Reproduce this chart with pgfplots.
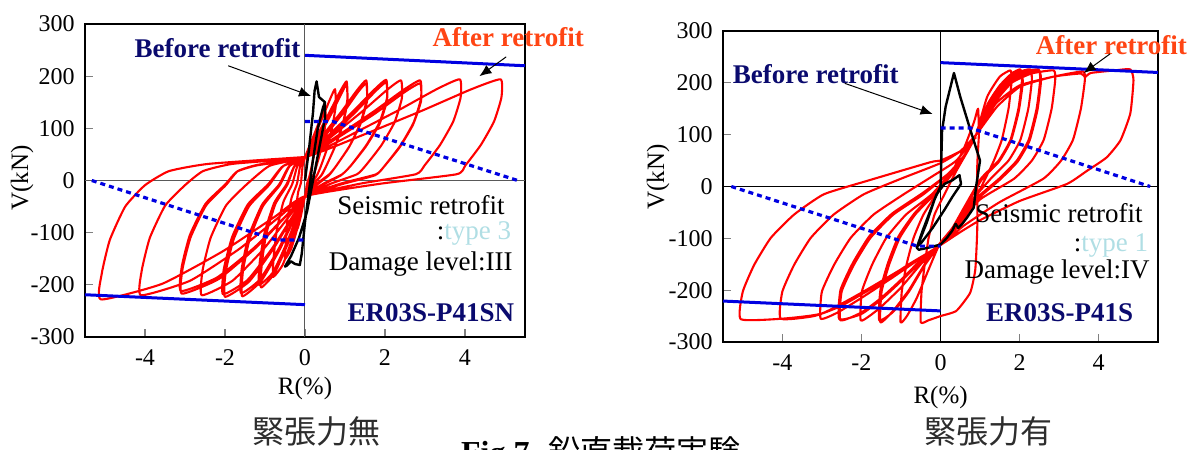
\documentclass[border=0pt]{standalone}
\usepackage{pgfplots}
\pgfplotsset{compat=1.18}
\usepackage{fontspec}
\setmainfont{Liberation Serif}
\newfontfamily\cjk{Noto Sans CJK JP}
\usetikzlibrary{arrows.meta}
\definecolor{navy}{RGB}{10,10,110}
\definecolor{orred}{RGB}{255,69,20}
\definecolor{ltblue}{RGB}{176,222,228}
\definecolor{pblue}{RGB}{0,0,225}
\definecolor{dgray}{RGB}{45,45,45}
\newcommand\annf{\fontsize{13.5}{14}\selectfont\bfseries}
\newcommand\txtf{\fontsize{13.5}{14}\selectfont}
\pgfplotsset{
  hyst/.style={
    scale only axis, xmin=-5.5, xmax=5.5, ymin=-300, ymax=300,
    xtick={-4,-2,0,2,4}, xticklabels={-4,-2,0,2,4},
    ytick={-300,-200,-100,0,100,200,300},
    yticklabels={-300,-200,-100,0,100,200,300},
    tick align=inside, tick pos=left,
    major tick length=4pt,
    tick style={gray, line width=0.6pt},
    axis line style={line width=1.3pt, black},
    tick label style={font=\fontsize{12}{12}\selectfont},
    xticklabel style={inner sep=0pt, yshift=-6pt},
    yticklabel style={inner sep=0pt, xshift=-5pt},
    clip=false, no markers,
  },
  redl/.style={red, line width=1.05pt, line join=round, smooth, tension=0.3},
  blkl/.style={black, line width=1.2pt, line join=round},
  bsol/.style={pblue, line width=1.5pt},
  bdot/.style={pblue, line width=1.6pt, dash pattern=on 2.5pt off 2pt},
}
\begin{document}
\begin{tikzpicture}
\useasboundingbox (0,0) rectangle (600pt,225pt);
% ---------------- left panel ----------------
\begin{axis}[hyst, at={(42.5pt,56.5pt)}, anchor=south west, width=220pt, height=156.5pt]
\addplot[gray!70!black, line width=0.5pt] coordinates {(0,-300)(0,300)};
\addplot[gray!70!black, line width=0.5pt] coordinates {(-5.5,0)(5.5,0)};
\addplot[redl] coordinates {
(0,0) (0.075,58) (0.15,72) (0.2125,84) (0.25,90) (0.27,74) (0.23,52) (0.18,32) (0.13,14) (0.10,5) (0.05,-6) (0,-30) (-0.04,-44) (-0.1,-67) (-0.175,-90) (-0.25,-100) (-0.23,-78) (-0.22,-50) (-0.17,-22) (-0.1,-4) (-0.06,28) (0,45)
(0.15,73) (0.3,102) (0.425,128) (0.5,140) (0.52,115) (0.455,81) (0.365,49) (0.26,21) (0.2,8) (0.1,-6) (0,-30) (-0.075,-54) (-0.2,-94) (-0.35,-132) (-0.5,-150) (-0.48,-117) (-0.44,-75) (-0.335,-33) (-0.2,-6) (-0.12,28) (0,45)
(0.225,83) (0.45,123) (0.6375,158) (0.75,175) (0.77,144) (0.68,102) (0.55,61) (0.39,26) (0.3,10) (0.15,-6) (0,-30) (-0.12,-61) (-0.32,-112) (-0.56,-162) (-0.8,-185) (-0.78,-144) (-0.7,-93) (-0.54,-41) (-0.32,-7) (-0.19,28) (0,45)
(0.31,87) (0.62,132) (0.88,171) (1.04,190) (1.06,156) (0.95,110) (0.76,67) (0.54,29) (0.42,11) (0.21,-6) (0,-30) (-0.165,-65) (-0.44,-123) (-0.77,-179) (-1.1,-205) (-1.08,-160) (-0.97,-103) (-0.74,-45) (-0.44,-8) (-0.26,28) (0,45)
(0.35,85) (0.66,128) (0.9,165) (1.04,184) (1.06,150) (0.94,106) (0.74,63) (0.52,26) (0.4,9) (0.2,-8) (0,-32) (-0.18,-66) (-0.47,-122) (-0.8,-176) (-1.15,-200) (-1.13,-156) (-1.01,-100) (-0.77,-43) (-0.46,-7) (-0.27,27) (0,44)
(0.46,88) (0.92,133) (1.3,173) (1.53,192) (1.55,157) (1.39,111) (1.12,67) (0.79,29) (0.61,12) (0.3,-6) (0,-30) (-0.24,-68) (-0.63,-132) (-1.1,-193) (-1.57,-222) (-1.55,-173) (-1.38,-111) (-1.05,-49) (-0.63,-9) (-0.38,28) (0,45)
(0.5,86) (0.96,130) (1.33,170) (1.53,186) (1.55,152) (1.38,107) (1.1,64) (0.77,27) (0.6,10) (0.3,-8) (0,-32) (-0.26,-70) (-0.66,-131) (-1.13,-190) (-1.6,-216) (-1.58,-168) (-1.41,-107) (-1.07,-46) (-0.65,-8) (-0.4,27) (0,44)
(0.61,88) (1.22,134) (1.73,174) (2.03,193) (2.05,158) (1.865,112) (1.535,68) (1.15,29) (0.93,12) (0.465,-6) (0,-30) (-0.3,-69) (-0.8,-132) (-1.4,-194) (-2.0,-223) (-1.98,-174) (-1.78,-112) (-1.395,-49) (-0.9,-9) (-0.54,28) (0,45)
(0.65,86) (1.26,131) (1.76,171) (2.03,188) (2.05,153) (1.86,108) (1.52,65) (1.13,27) (0.9,10) (0.45,-8) (0,-32) (-0.32,-70) (-0.83,-131) (-1.44,-191) (-2.05,-218) (-2.03,-170) (-1.82,-108) (-1.43,-46) (-0.93,-8) (-0.56,27) (0,44)
(0.72,88) (1.44,133) (2.04,173) (2.4,192) (2.42,157) (2.235,111) (1.905,67) (1.52,29) (1.3,12) (0.65,-6) (0,-30) (-0.39,-68) (-1.03,-131) (-1.81,-192) (-2.58,-220) (-2.56,-172) (-2.36,-110) (-1.975,-48) (-1.48,-9) (-0.89,28) (0,45)
(0.86,88) (1.73,133) (2.45,173) (2.88,192) (2.9,157) (2.715,111) (2.385,67) (2.0,29) (1.78,12) (0.89,-6) (0,-30) (-0.46,-67) (-1.23,-129) (-2.16,-189) (-3.08,-217) (-3.06,-169) (-2.86,-109) (-2.475,-48) (-1.98,-9) (-1.68,18) (-1.19,30) (0,45)
(0.9,86) (1.78,130) (2.5,170) (2.88,186) (2.9,152) (2.7,107) (2.37,64) (1.98,27) (1.75,10) (0.88,-8) (0,-32) (-0.48,-68) (-1.26,-128) (-2.2,-186) (-3.1,-212) (-3.08,-165) (-2.88,-105) (-2.49,-45) (-2.0,-8) (-1.7,17) (-1.2,29) (0,44)
(1.16,88) (2.32,134) (3.29,175) (3.87,194) (3.89,159) (3.705,113) (3.375,68) (2.99,29) (2.77,12) (1.385,-6) (0,-30) (-0.615,-68) (-1.64,-131) (-2.87,-192) (-4.1,-220) (-4.08,-172) (-3.88,-110) (-3.495,-48) (-3.0,-9) (-2.55,18) (-1.8,32) (0,45)
(1.47,88) (2.93,134) (4.16,175) (4.89,194) (4.91,159) (4.725,113) (4.395,68) (4.01,29) (3.79,12) (1.9,-6) (0,-30) (-0.765,-70) (-2.04,-135) (-3.57,-198) (-5.1,-228) (-5.08,-178) (-4.88,-114) (-4.495,-50) (-4.0,-9) (-3.4,18) (-2.4,32) (0,45)
};
\addplot[blkl] coordinates {
(0,0) (0.1,60) (0.2,130) (0.24,172) (0.29,190) (0.35,160) (0.5,150) (0.5,120) (0.35,60) (0.2,0) (0.05,-60) (-0.15,-110) (-0.35,-145) (-0.5,-165) (-0.45,-163) (-0.35,-155) (-0.25,-160) (-0.13,-162) (-0.08,-140) (0,-80) (0.1,-20) (0.2,40) (0.32,100) (0.45,140) (0.5,150)
};
\addplot[bsol] coordinates {(0,240)(5.5,220)};
\addplot[bsol] coordinates {(-5.5,-219)(0,-238)};
\addplot[bdot] coordinates {(0,113)(0.7,113)(5.32,0)};
\addplot[bdot] coordinates {(-5.33,0)(-0.72,-114)(0,-114)};
\node[anchor=base west, inner sep=0, text=navy, font=\annf] at (axis cs:-4.27,235) {Before retrofit};
\draw[-{Latex[length=6pt,width=5pt]}, line width=0.5pt] (axis cs:-1.92,220) -- (axis cs:0.15,162);
\node[anchor=base west, inner sep=0, text=orred, font=\annf] at (axis cs:3.18,256) {After retrofit};
\draw[-{Latex[length=6pt,width=5pt]}, line width=0.5pt] (axis cs:5.03,237) -- (axis cs:4.36,200);
\node[anchor=base east, inner sep=0, font=\txtf] at (axis cs:5.0,-65) {Seismic retrofit};
\node[anchor=base east, inner sep=0, font=\txtf] at (axis cs:5.16,-114) {:\textcolor{ltblue}{type 3}};
\node[anchor=base east, inner sep=0, font=\txtf] at (axis cs:5.2,-172) {Damage level:III};
\node[anchor=base east, inner sep=0, text=navy, font=\annf] at (axis cs:5.24,-271) {ER03S-P41SN};
\end{axis}
% ---------------- right panel ----------------
\begin{axis}[hyst, at={(361.5pt,54pt)}, anchor=south west, width=217.5pt, height=155.5pt]
\addplot[black, line width=0.5pt] coordinates {(0,-300)(0,300)};
\addplot[black, line width=0.5pt] coordinates {(-5.5,0)(5.5,0)};
\addplot[redl] coordinates {
(0,0) (0.3,30) (0.6,75) (0.85,125) (0.95,150) (0.97,100) (0.93,40) (0.93,-80) (0.88,-160) (0.75,-205) (0.4,-240) (0,-250) (-0.3,-258) (-0.5,-262) (-0.48,-203) (-0.4,-151) (-0.3,-99) (-0.15,-54) (0.1,-15) (0.4,30) (0.7,70) (0.9,100)
(1.18,173) (1.5,212) (1.77,224) (1.8,205) (1.72,150) (1.55,90) (1.35,50) (1.1,10) (0.7,-50) (0.35,-85) (0,-108) (-0.3,-160) (-0.6,-215) (-0.85,-250) (-1.01,-262) (-0.98,-203) (-0.86,-151) (-0.68,-99) (-0.43,-54) (-0.1,-15) (0.35,30) (0.65,65) (0.9,100)
(1.2,160) (1.5,195) (1.8,218) (2.02,226) (2.06,205) (1.97,150) (1.77,90) (1.47,50) (1.02,15) (0.6,-40) (0.3,-80) (0,-108) (-0.4,-150) (-0.8,-200) (-1.2,-240) (-1.52,-262) (-1.49,-203) (-1.3,-151) (-1.03,-99) (-0.64,-54) (-0.15,-15) (0.35,30) (0.65,65) (0.9,100)
(1.22,158) (1.52,192) (1.82,214) (2.04,222) (2.08,200) (1.98,146) (1.78,88) (1.48,48) (1.04,13) (0.62,-42) (0.3,-82) (0,-110) (-0.4,-152) (-0.8,-203) (-1.2,-242) (-1.55,-258) (-1.52,-200) (-1.33,-148) (-1.06,-96) (-0.66,-52) (-0.17,-13) (0.33,30) (0.65,65) (0.9,100)
(1.25,165) (1.6,200) (1.95,220) (2.27,226) (2.31,205) (2.22,150) (2.02,90) (1.72,50) (1.27,15) (0.7,-35) (0.3,-80) (0,-110) (-0.5,-150) (-1.0,-195) (-1.5,-232) (-1.8,-250) (-2.02,-258) (-1.99,-203) (-1.73,-151) (-1.37,-99) (-0.87,-54) (-0.22,-15) (0.3,30) (0.65,65) (0.9,100)
(1.3,165) (1.7,203) (2.1,220) (2.48,226) (2.52,205) (2.43,150) (2.23,90) (1.93,50) (1.48,15) (0.8,-30) (0.35,-78) (0,-110) (-0.5,-142) (-1.0,-180) (-1.5,-215) (-2.0,-243) (-2.53,-258) (-2.5,-203) (-2.19,-151) (-1.77,-99) (-1.19,-54) (-0.43,-15) (0.2,25) (0.6,60) (0.9,100)
(1.32,162) (1.72,200) (2.12,217) (2.5,222) (2.54,202) (2.45,147) (2.25,88) (1.95,48) (1.5,13) (0.82,-32) (0.36,-80) (0,-112) (-0.5,-145) (-1.0,-183) (-1.5,-218) (-2.0,-246) (-2.56,-256) (-2.53,-200) (-2.22,-148) (-1.8,-96) (-1.22,-52) (-0.46,-13) (0.2,25) (0.6,60) (0.9,100)
(1.35,160) (1.8,200) (2.3,218) (2.86,224) (2.9,205) (2.81,150) (2.61,90) (2.31,50) (1.86,15) (1.0,-25) (0.4,-75) (0,-112) (-0.5,-138) (-1.2,-175) (-2.0,-215) (-2.6,-243) (-3.03,-255) (-3.0,-203) (-2.69,-151) (-2.27,-99) (-1.69,-54) (-0.93,-15) (-0.2,20) (0.4,50) (0.9,100)
(1.4,160) (2.0,195) (2.86,212) (3.6,222) (3.65,205) (3.55,150) (3.35,90) (3.05,50) (2.6,15) (1.5,-30) (0.6,-75) (0,-113) (-0.8,-150) (-1.6,-190) (-2.5,-230) (-3.2,-250) (-4.04,-255) (-4.0,-203) (-3.7,-151) (-3.28,-99) (-2.7,-54) (-1.94,-15) (-1.0,15) (0,45) (0.5,68) (0.9,100)
(1.43,154) (2.02,193) (2.86,212) (3.55,218) (3.65,211) (3.8,219) (4.4,224) (4.8,226) (4.88,205) (4.8,141) (4.55,89) (4.2,56) (3.7,30) (3.2,5) (2.0,-28) (1.0,-65) (0.5,-88) (0,-113) (-1.0,-160) (-2.0,-205) (-3.0,-245) (-4.0,-255) (-5.05,-256) (-5.0,-203) (-4.71,-151) (-4.29,-99) (-3.7,-54) (-2.95,-15) (-1.85,11) (-0.25,47) (0,50) (0.5,68) (0.9,95)
};
\addplot[blkl] coordinates {
(0,0) (0.02,50) (0.04,108) (0.13,154) (0.34,219) (0.5,173) (0.76,108) (1.0,50) (0.9,0) (0.84,-41) (0.67,-60) (0.55,-72) (0.45,-80) (0.38,-72) (0.3,-85) (0.15,-100) (0,-112) (-0.3,-118) (-0.55,-122) (-0.6,-118) (-0.45,-85) (-0.3,-55) (-0.1,-15) (0.1,5) (0.3,12) (0.48,22) (0.52,5) (0.3,-20) (0.1,-45) (-0.2,-80) (-0.5,-110) (-0.58,-115) (-0.35,-70) (-0.15,-25) (0,0)
};
\addplot[bsol] coordinates {(0,239)(5.5,220)};
\addplot[bsol] coordinates {(-5.5,-221)(0,-240)};
\addplot[bdot] coordinates {(0,113)(0.75,113)(5.3,0)};
\addplot[bdot] coordinates {(-5.29,0)(-0.59,-115)(0,-115)};
\node[anchor=base west, inner sep=0, text=navy, font=\annf] at (axis cs:-5.26,198) {Before retrofit};
\draw[-{Latex[length=6pt,width=5pt]}, line width=0.5pt] (axis cs:-2.42,199) -- (axis cs:-0.2,140);
\node[anchor=base west, inner sep=0, text=orred, font=\annf] at (axis cs:2.4,254) {After retrofit};
\draw[-{Latex[length=6pt,width=5pt]}, line width=0.5pt] (axis cs:4.29,256) -- (axis cs:3.62,219);
\node[anchor=base east, inner sep=0, font=\txtf] at (axis cs:5.12,-70) {Seismic retrofit};
\node[anchor=base east, inner sep=0, font=\txtf] at (axis cs:5.26,-126) {:\textcolor{ltblue}{type 1}};
\node[anchor=base east, inner sep=0, font=\txtf] at (axis cs:5.3,-178) {Damage level:IV};
\node[anchor=base east, inner sep=0, text=navy, font=\annf] at (axis cs:4.88,-260) {ER03S-P41S};
\end{axis}
% ---------------- labels & captions ----------------
\node[rotate=90, font=\fontsize{12.5}{13}\selectfont] at (11pt,136pt) {V(kN)};
\node[font=\fontsize{12.5}{13}\selectfont] at (152.5pt,31pt) {R(\%)};
\node[rotate=90, font=\fontsize{12.5}{13}\selectfont] at (329pt,136.5pt) {V(kN)};
\node[font=\fontsize{12.5}{13}\selectfont] at (470.3pt,26.5pt) {R(\%)};
\node[font=\cjk\fontsize{16}{16}\selectfont, text=dgray] at (158pt,9.5pt) {緊張力無};
\node[font=\cjk\fontsize{16}{16}\selectfont, text=dgray] at (494pt,9.5pt) {緊張力有};
\node[anchor=north, inner sep=0] at (300.5pt,7pt) {\fontsize{16}{16}\selectfont\textbf{Fig.7}\hspace{0.6em}{\cjk 鉛直載荷実験}};
\end{tikzpicture}
\end{document}
